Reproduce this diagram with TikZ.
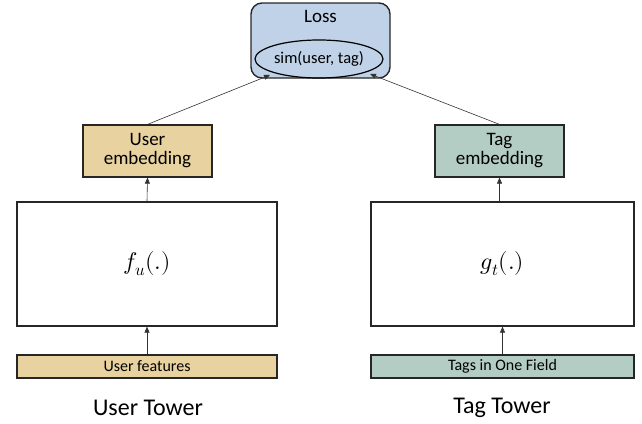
\documentclass[tikz,border=0pt]{standalone}
\usepackage{fontspec}
\usepackage{unicode-math}
\setmainfont{Carlito}
\setmathfont{Latin Modern Math}
\usetikzlibrary{arrows.meta,shapes.geometric}
\definecolor{lossblue}{HTML}{C0D2E7}
\definecolor{usertan}{HTML}{E8D29F}
\definecolor{taggreen}{HTML}{B3CDC4}
\begin{document}
\begin{tikzpicture}[x=1pt,y=-1pt,
  box/.style={draw=black!85,line width=1.2pt,inner sep=0pt,align=center},
  emb/.style={box,minimum width=129pt,minimum height=52pt,font=\fontsize{19}{21}\selectfont},
  big/.style={box,fill=white,minimum height=124pt,font=\fontsize{24}{26}\selectfont},
  bar/.style={box,minimum height=23pt,font=\fontsize{16}{18}\selectfont},
  arr/.style={-{Triangle[length=6pt,width=5pt]},line width=0.6pt,black!80},
  lbl/.style={font=\fontsize{24}{26}\selectfont}]
\useasboundingbox (0,0) rectangle (642,423);
% Loss
\node[box,fill=lossblue,rounded corners=11pt,line width=1.4pt,minimum width=139pt,minimum height=75pt] (loss) at (320.5,40.5) {};
\node[font=\fontsize{19}{21}\selectfont] (losst) at (320.5,16) {Loss};
\node[ellipse,draw=black,line width=1.2pt,minimum width=128pt,minimum height=38pt,inner sep=0pt,font=\fontsize{16.5}{18}\selectfont] (sim) at (319,59) {sim(user, tag)};
% embeddings
\node[emb,fill=usertan] (uemb) at (147.5,151) {User\\[-2pt]embedding};
\node[emb,fill=taggreen] (temb) at (499.5,151) {Tag\\[-2pt]embedding};
% towers
\node[big,minimum width=260pt] (fu) at (147,264) {$f_u(.)$};
\node[big,minimum width=263pt] (gt) at (502.5,264) {$g_t(.)$};
% inputs
\node[bar,fill=usertan,minimum width=260pt] (uf) at (147,366.5) {User features};
\node[bar,fill=taggreen,minimum width=263pt] (tf) at (502.5,366.5) {Tags in One Field};
% labels
\node[lbl] (ul) at (148,408) {User Tower};
\node[lbl] (tl) at (502,408) {Tag Tower};
% arrows
\coordinate (simL) at (270,75);
\coordinate (simR) at (370,74);
\draw[arr] (uf.north) -- (fu.south);
\draw[arr] (tf.north) -- (gt.south);
\draw[arr] (fu.north) -- (uemb.south);
\draw[arr] (gt.north -| temb.south) -- (temb.south);
\draw[arr] (uemb.north) -- (simL);
\draw[arr] (temb.north) -- (simR);
\end{tikzpicture}
\end{document}
